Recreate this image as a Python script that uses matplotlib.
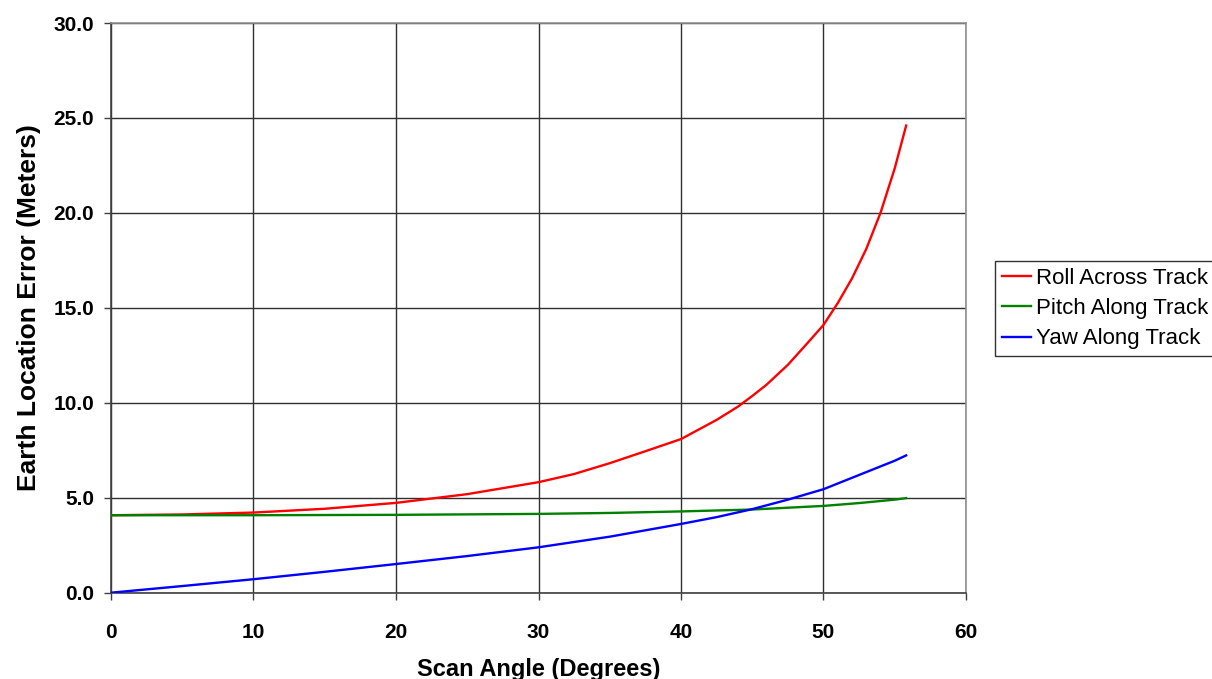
"""
Earth location error versus scan angle for roll, pitch and yaw errors.
"""
import matplotlib
matplotlib.use("Agg")
import matplotlib.pyplot as plt
from matplotlib.ticker import FormatStrFormatter

# values
roll_angle = [0, 5, 10, 15, 20, 25, 30, 32.5, 35, 37.5, 40, 42.5, 44, 45, 46, 47.5, 49,
              50, 51, 52, 53, 54, 55, 55.8]
roll_error = [4.08, 4.12, 4.22, 4.42, 4.73, 5.19, 5.82, 6.25, 6.82, 7.45, 8.09, 9.1, 9.8,
              10.36, 10.95, 12.0, 13.25, 14.1, 15.25, 16.55, 18.1, 20.0, 22.35, 24.6]

pitch_angle = [0, 10, 20, 30, 35, 40, 45, 50, 52.5, 55, 55.8]
pitch_error = [4.08, 4.08, 4.1, 4.15, 4.2, 4.28, 4.38, 4.57, 4.72, 4.9, 4.98]

yaw_angle = [0, 5, 10, 15, 20, 25, 30, 35, 40, 42.5, 45, 47.5, 50, 52.5, 55, 55.8]
yaw_error = [0.0, 0.35, 0.71, 1.1, 1.51, 1.93, 2.39, 2.95, 3.62, 3.98, 4.4, 4.9, 5.45,
             6.2, 6.95, 7.23]

labels = ["Roll Across Track", "Pitch Along Track", "Yaw Along Track"]
colors = ["#ff0000", "#008000", "#0000ff"]

plt.rcParams['font.family'] = ['Liberation Sans', 'DejaVu Sans']

fig = plt.figure(figsize=(12.12, 6.79), dpi=100)
ax = fig.add_axes([111/1212, 1 - 592.7/679, (966 - 111)/1212, (592.7 - 23)/679])

l_roll, = ax.plot(roll_angle, roll_error, color=colors[0], lw=1.7, zorder=3)
l_pitch, = ax.plot(pitch_angle, pitch_error, color=colors[1], lw=1.7, zorder=4)
l_yaw, = ax.plot(yaw_angle, yaw_error, color=colors[2], lw=1.7, zorder=5)

ax.set_xlim(0, 60)
ax.set_ylim(0, 30)
ax.set_xticks(range(0, 61, 10))
ax.set_yticks(range(0, 31, 5))
ax.yaxis.set_major_formatter(FormatStrFormatter('%.1f'))
ax.grid(True, color='#303030', lw=1.0)
ax.set_axisbelow(True)

for side in ['left', 'bottom']:
    ax.spines[side].set_color('#404040')
    ax.spines[side].set_linewidth(1.2)
for side in ['top', 'right']:
    ax.spines[side].set_color('#909090')
    ax.spines[side].set_linewidth(1.2)

ax.tick_params(direction='out', length=5, width=1, color='#404040', labelsize=15)
ax.tick_params(axis='y', pad=7)
ax.tick_params(axis='x', pad=17)
for t in ax.get_xticklabels() + ax.get_yticklabels():
    t.set_fontweight('bold')

ax.set_xlabel("Scan Angle (Degrees)", fontsize=17, fontweight='bold', labelpad=11)
ax.set_ylabel("Earth Location Error (Meters)", fontsize=19, fontweight='bold', labelpad=9)

leg = fig.legend([l_roll, l_pitch, l_yaw], labels, loc='upper left',
                 bbox_to_anchor=(995/1212, 1 - 261/679), fontsize=16,
                 frameon=True, fancybox=False, edgecolor='black',
                 handlelength=1.3, handletextpad=0.25, labelspacing=0.42,
                 borderpad=0.3, borderaxespad=0)
leg.get_frame().set_linewidth(1.0)

fig.savefig("out.png", dpi=100)
